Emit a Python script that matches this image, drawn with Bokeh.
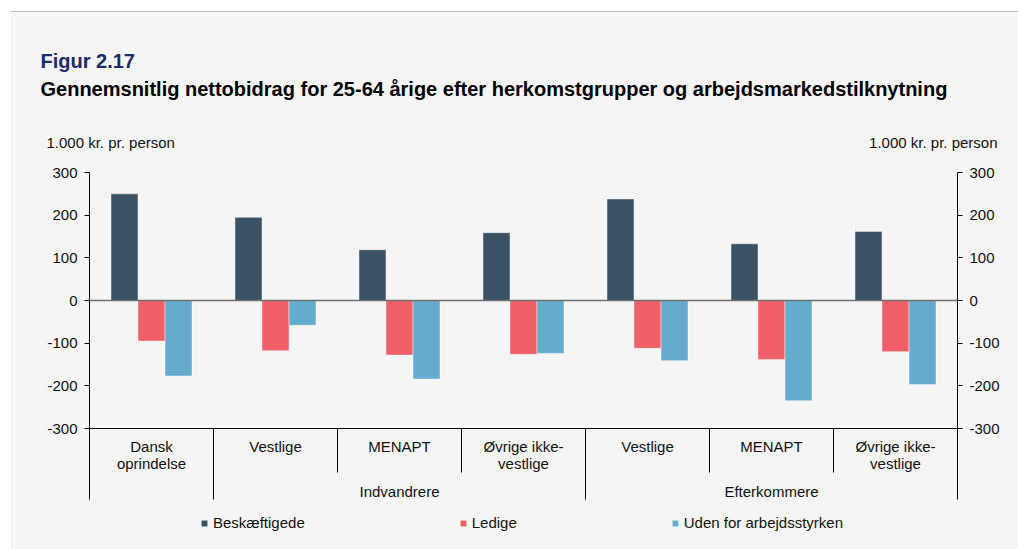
from bokeh.plotting import figure
from bokeh.models import LinearAxis, FixedTicker, Label, BoxAnnotation, Range1d
from bokeh.core.properties import value
from bokeh.embed import file_html
from bokeh.resources import INLINE
import numpy as np

# ---------------- data ----------------
categories = ["Dansk oprindelse", "Vestlige", "MENAPT", "Øvrige ikke-vestlige",
              "Vestlige", "MENAPT", "Øvrige ikke-vestlige"]
cat_line1 = ["Dansk", "Vestlige", "MENAPT", "Øvrige ikke-",
             "Vestlige", "MENAPT", "Øvrige ikke-"]
cat_line2 = ["oprindelse", "", "", "vestlige", "", "", "vestlige"]
groups = ["", "Indvandrere", "Indvandrere", "Indvandrere",
          "Efterkommere", "Efterkommere", "Efterkommere"]
series_names = ["Beskæftigede", "Ledige", "Uden for arbejdsstyrken"]
beskaeftigede = [250, 195, 119, 159, 238, 133, 162]
ledige = [-95, -118, -128, -126, -112, -138, -120]
uden = [-177, -58, -184, -124, -141, -235, -197]
y_ticks = [-300, -200, -100, 0, 100, 200, 300]
unit_label = "1.000 kr. pr. person"
title1 = "Figur 2.17"
title2 = "Gennemsnitlig nettobidrag for 25-64 årige efter herkomstgrupper og arbejdsmarkedstilknytning"

# ---------------- layout helpers ----------------
FONT = "Liberation Sans"
BG = "#f5f5f5"
TXT = "#111111"
colors = ["#3b5264", "#ef5f68", "#65abce"]
n = len(categories)

W, H = 1018, 549
FRAME_LEFT_PAGE, FRAME_RIGHT_PAGE = 89, 957
AX_TOP_PAGE, AX_BOTTOM_PAGE = 172, 428
PX_PER_CAT = (FRAME_RIGHT_PAGE - FRAME_LEFT_PAGE) / n
U_PER_PX = 600 / (AX_BOTTOM_PAGE - AX_TOP_PAGE)


def xd(px):
    return (px - FRAME_LEFT_PAGE) / PX_PER_CAT


def yd(py):
    return 300 - (py - AX_TOP_PAGE) * U_PER_PX


p = figure(width=W, height=H, output_backend="svg", toolbar_location=None,
           x_range=Range1d(xd(0), xd(W)), y_range=Range1d(yd(H), yd(0)),
           x_axis_location=None, y_axis_location=None,
           min_border_left=0, min_border_right=0, min_border_top=0, min_border_bottom=0)
p.title.visible = False
p.background_fill_color = "white"
p.border_fill_color = "white"
p.outline_line_color = None
p.xgrid.visible = False
p.ygrid.visible = False

# panel background and top rule
p.add_layout(BoxAnnotation(left=xd(10), right=xd(W + 5), top=yd(12), bottom=yd(H + 5),
                           fill_color=BG, fill_alpha=1, line_color=None, level="underlay"))
p.add_layout(BoxAnnotation(left=xd(10), right=xd(W + 5), top=yd(10.5), bottom=yd(11.5),
                           fill_color="#b9b9b9", fill_alpha=1, line_color=None, level="underlay"))

overrides = {t: str(t) for t in y_ticks}


def make_axis(loc):
    ax = LinearAxis(fixed_location=loc)
    ax.ticker = FixedTicker(ticks=y_ticks)
    ax.bounds = (-300, 300)
    ax.axis_line_color = "black"
    ax.axis_line_width = 1
    ax.major_tick_line_color = "black"
    ax.major_tick_out = 5
    ax.major_tick_in = 0
    ax.minor_tick_line_color = None
    ax.major_label_text_font = FONT
    ax.major_label_text_font_size = "15px"
    ax.major_label_text_color = TXT
    ax.major_label_standoff = 7
    ax.major_label_overrides = overrides
    return ax


p.add_layout(make_axis(0), "left")
p.add_layout(make_axis(n), "right")

# ---------------- bars ----------------
bw = 27 / PX_PER_CAT
centers = np.arange(n) + 0.5
for k, (vals, name) in enumerate(zip([beskaeftigede, ledige, uden], series_names)):
    p.vbar(x=centers + (k - 1) * bw, top=vals, bottom=0, width=bw,
           fill_color=colors[k], line_color="white", line_alpha=0.45, line_width=1,
           legend_label=name)

# zero line and x-axis line
p.segment(x0=[0], y0=[0], x1=[n], y1=[0], line_color="#707070", line_width=1.6)
p.segment(x0=[0], y0=[-300], x1=[n], y1=[-300], line_color="black", line_width=1)

# category separators
bounds_x = list(range(n + 1))
sep_y1 = []
for b in bounds_x:
    outer = b == 0 or b == n or groups[b - 1] != groups[b]
    sep_y1.append(yd(499) if outer else yd(472))
p.segment(x0=bounds_x, y0=[-300] * (n + 1), x1=bounds_x, y1=sep_y1,
          line_color="black", line_width=1)

# category labels
txt_kw = dict(text_align="center", text_baseline="middle", text_font=value(FONT),
              text_font_size="15px", text_color=TXT)
p.text(x=centers, y=[yd(445.5)] * n, text=cat_line1, **txt_kw)
p.text(x=centers, y=[yd(463)] * n, text=cat_line2, **txt_kw)

# group labels
gnames, gx = [], []
for g in dict.fromkeys(groups):
    if g:
        idx = [i for i, gg in enumerate(groups) if gg == g]
        gnames.append(g)
        gx.append((min(idx) + max(idx) + 1) / 2)
p.text(x=gx, y=[yd(490.7)] * len(gx), text=gnames, **txt_kw)

# ---------------- titles and unit labels ----------------
p.add_layout(Label(x=xd(40), y=yd(60.2), text=title1, text_font=FONT,
                   text_font_size="20px", text_font_style="bold",
                   text_color="#1b2b6b", text_baseline="middle"))
p.add_layout(Label(x=xd(40), y=yd(88), text=title2, text_font=FONT,
                   text_font_size="20px", text_font_style="bold",
                   text_color="black", text_baseline="middle"))
p.add_layout(Label(x=xd(46), y=yd(142), text=unit_label, text_font=FONT,
                   text_font_size="15px", text_color=TXT,
                   text_baseline="middle"))
p.add_layout(Label(x=xd(997), y=yd(142), text=unit_label, text_font=FONT,
                   text_font_size="15px", text_color=TXT,
                   text_baseline="middle", text_align="right"))

# ---------------- legend ----------------
lg = p.legend[0]
lg.orientation = "horizontal"
lg.location = (200, 18)
lg.spacing = 154
lg.padding = 0
lg.margin = 0
lg.glyph_width = 8
lg.glyph_height = 8
lg.label_standoff = 5
lg.label_height = 16
lg.label_text_font = FONT
lg.label_text_font_size = "15px"
lg.label_text_color = TXT
lg.background_fill_alpha = 0
lg.border_line_alpha = 0

open("out.html", "w").write(file_html(p, INLINE))
